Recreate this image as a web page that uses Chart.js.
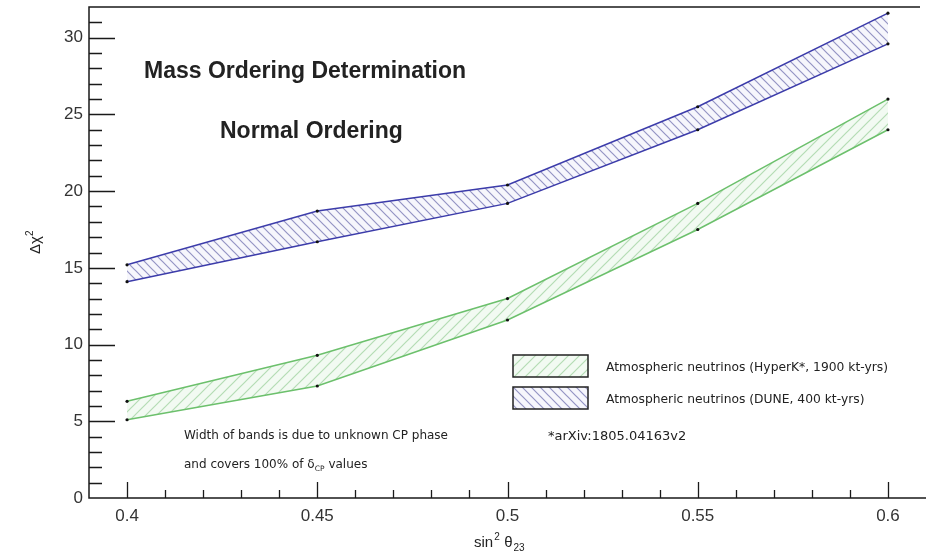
<!DOCTYPE html>
<html lang="en">
<head>
<meta charset="UTF-8">
<title>Mass Ordering Determination</title>
<script src="https://cdn.jsdelivr.net/npm/chart.js"></script>
<style>
  html, body { margin: 0; padding: 0; background: #fff; }
  #wrap { width: 926px; height: 556px; }
</style>
</head>
<body>
<div id="wrap"><canvas id="myChart" width="926" height="556"></canvas></div>
<script>
// data (sin^2 theta23 vs delta chi^2 band edges)
const sin2theta = [0.4, 0.45, 0.5, 0.55, 0.6];
const hyperkLow = [5.1, 7.3, 11.6, 17.5, 24.0];
const hyperkHigh = [6.3, 9.3, 13.0, 19.2, 26.0];
const duneLow = [14.1, 16.7, 19.2, 24.0, 29.6];
const duneHigh = [15.2, 18.7, 20.4, 25.5, 31.6];
const xTicks = [0.4, 0.45, 0.5, 0.55, 0.6];
const yTicks = [0, 5, 10, 15, 20, 25, 30];
const legendLabels = ['Atmospheric neutrinos (HyperK*, 1900 kt-yrs)', 'Atmospheric neutrinos (DUNE, 400 kt-yrs)'];

const FONT = '"Liberation Sans", Arial, sans-serif';
const SMALL = '"DejaVu Sans", Verdana, sans-serif';

function toPts(vals) {
    return sin2theta.map((x, i) => ({ x: x, y: vals[i] }));
}

// diagonal hatch fill, dir 1 = "/", dir -1 = "\"
function hatch(dir, line, bg, gap) {
    const c = document.createElement('canvas');
    c.width = gap; c.height = gap;
    const g = c.getContext('2d');
    g.fillStyle = bg;
    g.fillRect(0, 0, gap, gap);
    g.strokeStyle = line;
    g.lineWidth = 1.2;
    g.beginPath();
    if (dir > 0) {
        g.moveTo(0, gap); g.lineTo(gap, 0);
        g.moveTo(-1, 1); g.lineTo(1, -1);
        g.moveTo(gap - 1, gap + 1); g.lineTo(gap + 1, gap - 1);
    } else {
        g.moveTo(0, 0); g.lineTo(gap, gap);
        g.moveTo(gap - 1, -1); g.lineTo(gap + 1, 1);
        g.moveTo(-1, gap - 1); g.lineTo(1, gap + 1);
    }
    g.stroke();
    return g.createPattern(c, 'repeat');
}

const greenLine = '#6cc06c';
const blueLine = '#3c3caa';
const greenFill = hatch(1, '#b4dcb4', '#f2faf2', 11);
const blueFill = hatch(-1, '#9494c4', '#f6f6fc', 9);

// axis frame, inward ticks, texts and legend
const decor = {
    id: 'decor',
    afterDraw(chart) {
        const ctx = chart.ctx;
        const a = chart.chartArea;
        const x = chart.scales.x, y = chart.scales.y;
        ctx.save();
        ctx.strokeStyle = '#1a1a1a';
        ctx.lineWidth = 1.5;
        ctx.beginPath();
        ctx.moveTo(a.right - 6, a.top);
        ctx.lineTo(a.left, a.top);
        ctx.lineTo(a.left, a.bottom);
        ctx.lineTo(a.right, a.bottom);
        ctx.stroke();

        ctx.lineWidth = 1.3;
        ctx.beginPath();
        for (let i = 1; i <= 32; i++) {
            const py = Math.round(y.getPixelForValue(i)) + 0.5;
            if (py <= a.top + 2) continue;
            const len = (i % 5 === 0) ? 26 : 13;
            ctx.moveTo(a.left, py);
            ctx.lineTo(a.left + len, py);
        }
        for (let i = 40; i <= 61; i++) {
            const px = Math.round(x.getPixelForValue(i / 100)) + 0.5;
            if (px >= a.right - 2) continue;
            const len = (i % 5 === 0) ? 16 : 8;
            ctx.moveTo(px, a.bottom);
            ctx.lineTo(px, a.bottom - len);
        }
        ctx.stroke();

        ctx.fillStyle = '#222';
        ctx.textBaseline = 'alphabetic';
        ctx.textAlign = 'left';
        ctx.font = 'bold 23px ' + FONT;
        ctx.fillText('Mass Ordering Determination', 144, 78);
        ctx.fillText('Normal Ordering', 220, 138);

        ctx.font = '12px ' + SMALL;
        ctx.fillText('Width of bands is due to unknown CP phase', 184, 439);
        let t = 'and covers 100% of ';
        ctx.fillText(t, 184, 468);
        let cx = 184 + ctx.measureText(t).width;
        ctx.fillText('\u03b4', cx, 468);
        cx += ctx.measureText('\u03b4').width;
        ctx.font = '7.5px ' + SMALL;
        ctx.fillText('CP', cx, 471);
        cx += ctx.measureText('CP').width + 4;
        ctx.font = '12px ' + SMALL;
        ctx.fillText('values', cx, 468);

        ctx.font = '13px ' + SMALL;
        ctx.fillText('*arXiv:1805.04163v2', 548, 440);

        // legend
        const boxes = [[513, 355, greenFill], [513, 387, blueFill]];
        ctx.font = '12.3px ' + SMALL;
        boxes.forEach((b, i) => {
            ctx.fillStyle = b[2];
            ctx.fillRect(b[0], b[1], 75, 22);
            ctx.strokeStyle = '#222';
            ctx.lineWidth = 1.5;
            ctx.strokeRect(b[0], b[1], 75, 22);
            ctx.fillStyle = '#222';
            ctx.fillText(legendLabels[i], 606, b[1] + 16);
        });

        // x title: sin^2 theta_23
        ctx.font = '15px ' + FONT;
        let tx = 474, ty = 547;
        ctx.fillText('sin', tx, ty);
        tx += ctx.measureText('sin').width;
        ctx.font = '10px ' + FONT;
        ctx.fillText('2', tx + 1, ty - 7);
        tx += 11;
        ctx.font = '15px ' + FONT;
        ctx.fillText('\u03b8', tx, ty);
        tx += ctx.measureText('\u03b8').width + 1;
        ctx.font = '10px ' + FONT;
        ctx.fillText('23', tx, ty + 4);

        // y title: delta chi^2
        ctx.translate(40, 243);
        ctx.rotate(-Math.PI / 2);
        ctx.font = '15px ' + FONT;
        ctx.textAlign = 'left';
        ctx.fillText('\u0394\u03c7', -11, 0);
        const w = ctx.measureText('\u0394\u03c7').width;
        ctx.font = '10px ' + FONT;
        ctx.fillText('2', -11 + w, -7);
        ctx.restore();
    }
};

const ctx = document.getElementById('myChart');
const mychart = new Chart(ctx, {
    type: 'line',
    data: {
        datasets: [
            { label: 'hk low', data: toPts(hyperkLow), borderColor: greenLine, fill: false },
            { label: legendLabels[0], data: toPts(hyperkHigh), borderColor: greenLine, backgroundColor: greenFill, fill: '-1' },
            { label: 'dune low', data: toPts(duneLow), borderColor: blueLine, fill: false },
            { label: legendLabels[1], data: toPts(duneHigh), borderColor: blueLine, backgroundColor: blueFill, fill: '-1' }
        ]
    },
    options: {
        responsive: false,
        animation: false,
        layout: { autoPadding: false, padding: { top: 7, right: 0, left: 0, bottom: 0 } },
        elements: {
            line: { borderWidth: 1.5, tension: 0 },
            point: { radius: 1.6, backgroundColor: '#111', borderWidth: 0 }
        },
        datasets: {
            line: { pointBackgroundColor: '#111', pointBorderColor: '#111' }
        },
        plugins: {
            legend: { display: false },
            tooltip: { enabled: false }
        },
        scales: {
            x: {
                type: 'linear',
                min: 0.39,
                max: 0.61,
                afterBuildTicks: s => { s.ticks = xTicks.map(v => ({ value: v })); },
                afterFit: s => { s.height = 58; s.paddingLeft = 0; s.paddingRight = 0; },
                grid: { display: false, drawTicks: false },
                border: { display: false },
                ticks: {
                    padding: 8,
                    color: '#333',
                    font: { family: FONT, size: 17 },
                    callback: v => String(v)
                }
            },
            y: {
                min: 0,
                max: 32,
                afterBuildTicks: s => { s.ticks = yTicks.map(v => ({ value: v })); },
                afterFit: s => { s.width = 89; s.paddingTop = 0; s.paddingBottom = 0; },
                grid: { display: false, drawTicks: false },
                border: { display: false },
                ticks: {
                    padding: 6,
                    color: '#333',
                    font: { family: FONT, size: 17 }
                }
            }
        }
    },
    plugins: [decor]
});
</script>
</body>
</html>
